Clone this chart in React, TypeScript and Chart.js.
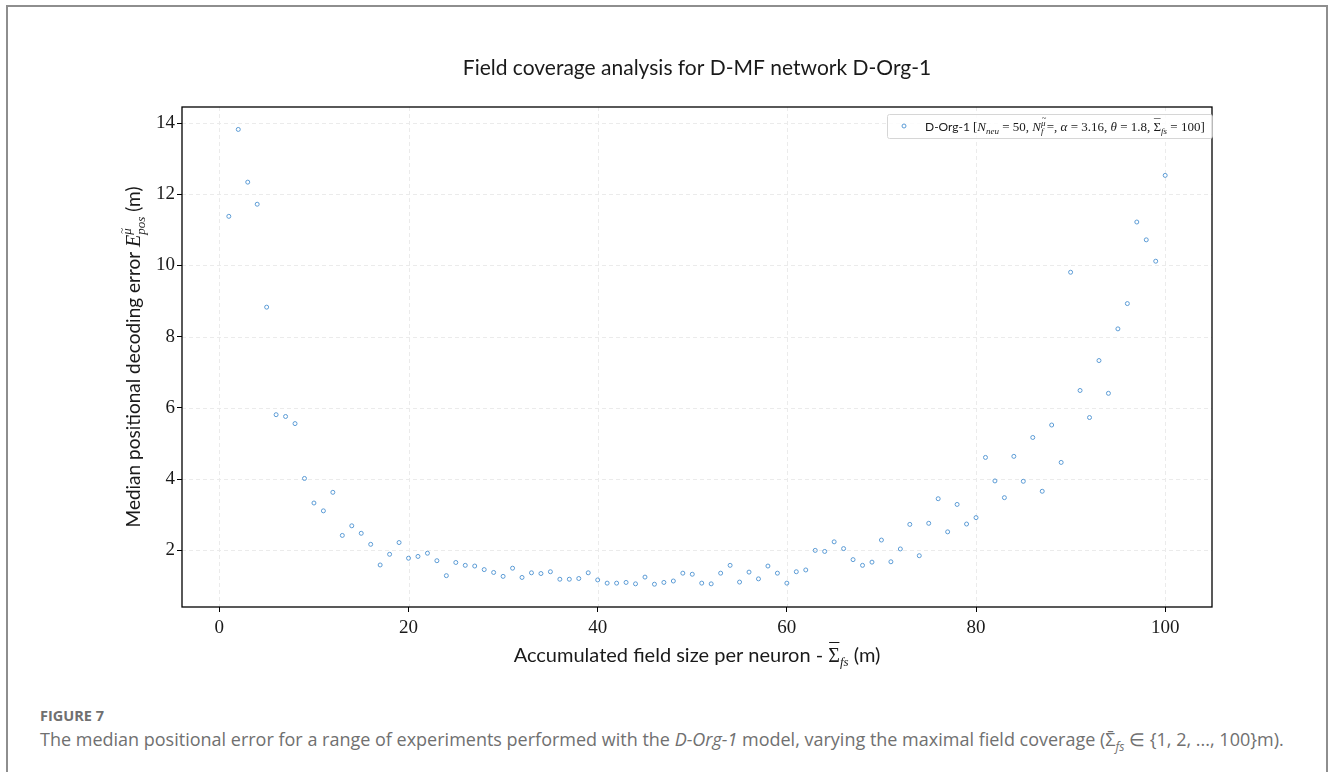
import React, { useEffect, useRef } from "react";
import { Chart, registerables } from "chart.js";

Chart.register(...registerables);

const fieldSizes = [
  1, 2, 3, 4, 5, 6, 7, 8, 9, 10, 11, 12, 13, 14, 15, 16, 17, 18, 19, 20,
  21, 22, 23, 24, 25, 26, 27, 28, 29, 30, 31, 32, 33, 34, 35, 36, 37, 38, 39, 40,
  41, 42, 43, 44, 45, 46, 47, 48, 49, 50, 51, 52, 53, 54, 55, 56, 57, 58, 59, 60,
  61, 62, 63, 64, 65, 66, 67, 68, 69, 70, 71, 72, 73, 74, 75, 76, 77, 78, 79, 80,
  81, 82, 83, 84, 85, 86, 87, 88, 89, 90, 91, 92, 93, 94, 95, 96, 97, 98, 99, 100,
];

const medianErrors = [
  11.38, 13.82, 12.34, 11.72, 8.83, 5.81, 5.76, 5.56, 4.02, 3.33,
  3.11, 3.63, 2.42, 2.69, 2.48, 2.17, 1.59, 1.89, 2.22, 1.78,
  1.83, 1.92, 1.71, 1.29, 1.66, 1.58, 1.56, 1.46, 1.38, 1.27,
  1.5, 1.24, 1.37, 1.35, 1.4, 1.19, 1.19, 1.21, 1.37, 1.17,
  1.08, 1.08, 1.1, 1.06, 1.25, 1.05, 1.1, 1.14, 1.36, 1.33,
  1.08, 1.06, 1.36, 1.58, 1.11, 1.39, 1.2, 1.56, 1.36, 1.08,
  1.4, 1.45, 2.0, 1.97, 2.24, 2.05, 1.74, 1.58, 1.67, 2.29,
  1.68, 2.04, 2.73, 1.85, 2.76, 3.45, 2.52, 3.29, 2.74, 2.92,
  4.61, 3.95, 3.48, 4.64, 3.94, 5.17, 3.66, 5.52, 4.47, 9.81,
  6.49, 5.73, 7.33, 6.41, 8.22, 8.93, 11.22, 10.72, 10.12, 12.53,
];

const xTicks = [0, 20, 40, 60, 80, 100];
const yTicks = [2, 4, 6, 8, 10, 12, 14];

const titleText = "Field coverage analysis for D-MF network D-Org-1";
const seriesName = "D-Org-1";

const SANS = "Lato";
const SERIF = "'Liberation Serif'";
const TEXT = "#1a1a1a";
const POINT = "#5b9bd5";

type Seg = { t: string; f: string; dy?: number; dx?: number; noAdv?: boolean };

function segsWidth(ctx: CanvasRenderingContext2D, segs: Seg[]) {
  let w = 0;
  for (const s of segs) {
    ctx.font = s.f;
    if (!s.noAdv) w += ctx.measureText(s.t).width;
  }
  return w;
}

function drawSegs(ctx: CanvasRenderingContext2D, segs: Seg[], x: number, y: number) {
  let cx = x;
  for (const s of segs) {
    ctx.font = s.f;
    ctx.fillText(s.t, cx + (s.dx || 0), y + (s.dy || 0));
    if (!s.noAdv) cx += ctx.measureText(s.t).width;
  }
  return cx;
}

const yLabel: Seg[] = [
  { t: "Median positional decoding error ", f: `19px ${SANS}` },
  { t: "E", f: `italic 20px ${SERIF}` },
  { t: "~", f: `11px ${SERIF}`, dy: -15, dx: 1, noAdv: true },
  { t: "μ", f: `italic 13px ${SERIF}`, dy: -9, noAdv: true },
  { t: "pos", f: `italic 13px ${SERIF}`, dy: 5 },
  { t: " (m)", f: `19px ${SANS}` },
];

const xLabel: Seg[] = [
  { t: "Accumulated field size per neuron - ", f: `20px ${SANS}` },
  { t: "¯", f: `20px ${SERIF}`, dy: -4, dx: 1, noAdv: true },
  { t: "Σ", f: `20px ${SERIF}` },
  { t: "fs", f: `italic 13px ${SERIF}`, dy: 4 },
  { t: " (m)", f: `20px ${SANS}` },
];

const legendSegs: Seg[] = [
  { t: seriesName + " ", f: `12px ${SANS}` },
  { t: "[", f: `13px ${SERIF}` },
  { t: "N", f: `italic 13px ${SERIF}` },
  { t: "neu", f: `italic 9px ${SERIF}`, dy: 3 },
  { t: " = 50, ", f: `13px ${SERIF}` },
  { t: "N", f: `italic 13px ${SERIF}` },
  { t: "~", f: `8px ${SERIF}`, dy: -10, dx: 1, noAdv: true },
  { t: "μ", f: `italic 9px ${SERIF}`, dy: -5, noAdv: true },
  { t: "f", f: `italic 9px ${SERIF}`, dy: 3 },
  { t: " =, ", f: `13px ${SERIF}` },
  { t: "α", f: `italic 13px ${SERIF}` },
  { t: " = 3.16, ", f: `13px ${SERIF}` },
  { t: "θ", f: `italic 13px ${SERIF}` },
  { t: " = 1.8, ", f: `13px ${SERIF}` },
  { t: "¯", f: `13px ${SERIF}`, dy: -3, dx: 0.5, noAdv: true },
  { t: "Σ", f: `13px ${SERIF}` },
  { t: "fs", f: `italic 9px ${SERIF}`, dy: 3 },
  { t: " = 100]", f: `13px ${SERIF}` },
];

const decorPlugin = {
  id: "decor",
  beforeDatasetsDraw(chart: any) {
    const { ctx, chartArea: a, scales } = chart;
    ctx.save();
    ctx.strokeStyle = "#ebebeb";
    ctx.lineWidth = 1;
    ctx.setLineDash([4, 3]);
    for (const v of xTicks) {
      const px = Math.round(scales.x.getPixelForValue(v)) + 0.5;
      ctx.beginPath();
      ctx.moveTo(px, a.top);
      ctx.lineTo(px, a.bottom);
      ctx.stroke();
    }
    for (const v of yTicks) {
      const py = Math.round(scales.y.getPixelForValue(v)) + 0.5;
      ctx.beginPath();
      ctx.moveTo(a.left, py);
      ctx.lineTo(a.right, py);
      ctx.stroke();
    }
    ctx.restore();
  },
  afterDraw(chart: any) {
    const { ctx, chartArea: a } = chart;
    ctx.save();
    ctx.strokeStyle = "#000";
    ctx.lineWidth = 1.3;
    ctx.strokeRect(a.left, a.top, a.right - a.left, a.bottom - a.top);

    ctx.fillStyle = TEXT;
    ctx.textBaseline = "alphabetic";
    ctx.textAlign = "left";
    ctx.font = `21px ${SANS}`;
    const tw = ctx.measureText(titleText).width;
    ctx.fillText(titleText, (a.left + a.right) / 2 - tw / 2, 75);

    const xw = segsWidth(ctx, xLabel);
    drawSegs(ctx, xLabel, (a.left + a.right) / 2 - xw / 2, 662);

    const yw = segsWidth(ctx, yLabel);
    ctx.save();
    ctx.translate(140, (a.top + a.bottom) / 2);
    ctx.rotate(-Math.PI / 2);
    drawSegs(ctx, yLabel, -yw / 2, 0);
    ctx.restore();

    const lx = 887, ly = 114, lh = 24;
    const textStart = 925;
    const lw = segsWidth(ctx, legendSegs);
    const boxW = textStart - lx + lw + 7;
    ctx.fillStyle = "rgba(255,255,255,0.85)";
    ctx.strokeStyle = "#d6d6d6";
    ctx.lineWidth = 1;
    ctx.beginPath();
    (ctx as any).roundRect(lx + 0.5, ly + 0.5, boxW, lh, 2);
    ctx.fill();
    ctx.stroke();
    ctx.strokeStyle = POINT;
    ctx.beginPath();
    ctx.arc(904, ly + lh / 2, 2, 0, Math.PI * 2);
    ctx.stroke();
    ctx.fillStyle = TEXT;
    drawSegs(ctx, legendSegs, textStart, ly + 16.5);
    ctx.restore();
  },
};

export default function App() {
  const ref = useRef<HTMLCanvasElement | null>(null);

  useEffect(() => {
    if (!ref.current) return;
    const chart = new Chart(ref.current, {
      type: "scatter",
      data: {
        datasets: [
          {
            label: seriesName,
            data: fieldSizes.map((x, i) => ({ x, y: medianErrors[i] })),
            pointStyle: "circle",
            pointRadius: 2,
            pointBorderWidth: 1,
            borderColor: POINT,
            backgroundColor: "rgba(0,0,0,0)",
            showLine: false,
          },
        ],
      },
      options: {
        responsive: false,
        animation: false,
        layout: { padding: { left: 122, right: 121, top: 107, bottom: 53 } },
        plugins: {
          legend: { display: false },
          title: { display: false },
          tooltip: { enabled: false },
        },
        scales: {
          x: {
            type: "linear",
            min: -3.95,
            max: 104.95,
            afterFit: (s: any) => {
              s.height = 40;
            },
            afterBuildTicks: (s: any) => {
              s.ticks = xTicks.map((v) => ({ value: v }));
            },
            grid: {
              drawOnChartArea: false,
              drawTicks: true,
              tickLength: 5,
              tickColor: "#000",
            },
            border: { display: false },
            ticks: {
              padding: 5,
              color: TEXT,
              font: { family: "Liberation Serif", size: 19 },
              maxRotation: 0,
            },
          },
          y: {
            type: "linear",
            min: 0.41,
            max: 14.45,
            afterFit: (s: any) => {
              s.width = 60;
            },
            afterBuildTicks: (s: any) => {
              s.ticks = yTicks.map((v) => ({ value: v }));
            },
            grid: {
              drawOnChartArea: false,
              drawTicks: true,
              tickLength: 5,
              tickColor: "#000",
            },
            border: { display: false },
            ticks: {
              padding: 2,
              color: TEXT,
              font: { family: "Liberation Serif", size: 19 },
            },
          },
        },
      },
      plugins: [decorPlugin],
    });
    return () => chart.destroy();
  }, []);

  return (
    <div
      style={{
        position: "fixed",
        left: 0,
        top: 0,
        width: 1333,
        height: 772,
        overflow: "hidden",
        background: "#fff",
      }}
    >
      <div
        style={{
          position: "absolute",
          left: 6,
          top: 5,
          width: 1318,
          height: 800,
          border: "2px solid #8e8e8e",
        }}
      />
      <canvas
        ref={ref}
        width={1333}
        height={700}
        style={{ position: "absolute", left: 0, top: 0, width: 1333, height: 700 }}
      />
      <div
        style={{
          position: "absolute",
          left: 40,
          top: 706,
          fontFamily: "'Open Sans'",
          fontWeight: 700,
          fontSize: 14.5,
          color: "#707070",
        }}
      >
        FIGURE 7
      </div>
      <div
        style={{
          position: "absolute",
          left: 40,
          top: 727,
          fontFamily: "'Open Sans'",
          fontSize: 18,
          color: "#707070",
          whiteSpace: "nowrap",
        }}
      >
        The median positional error for a range of experiments performed with the{" "}
        <i>D-Org-1</i> model, varying the maximal field coverage (Σ̄
        <sub style={{ fontSize: 12, fontStyle: "italic" }}>fs</sub> ∈ {"{"}1, 2, ..., 100{"}"}m).
      </div>
    </div>
  );
}
